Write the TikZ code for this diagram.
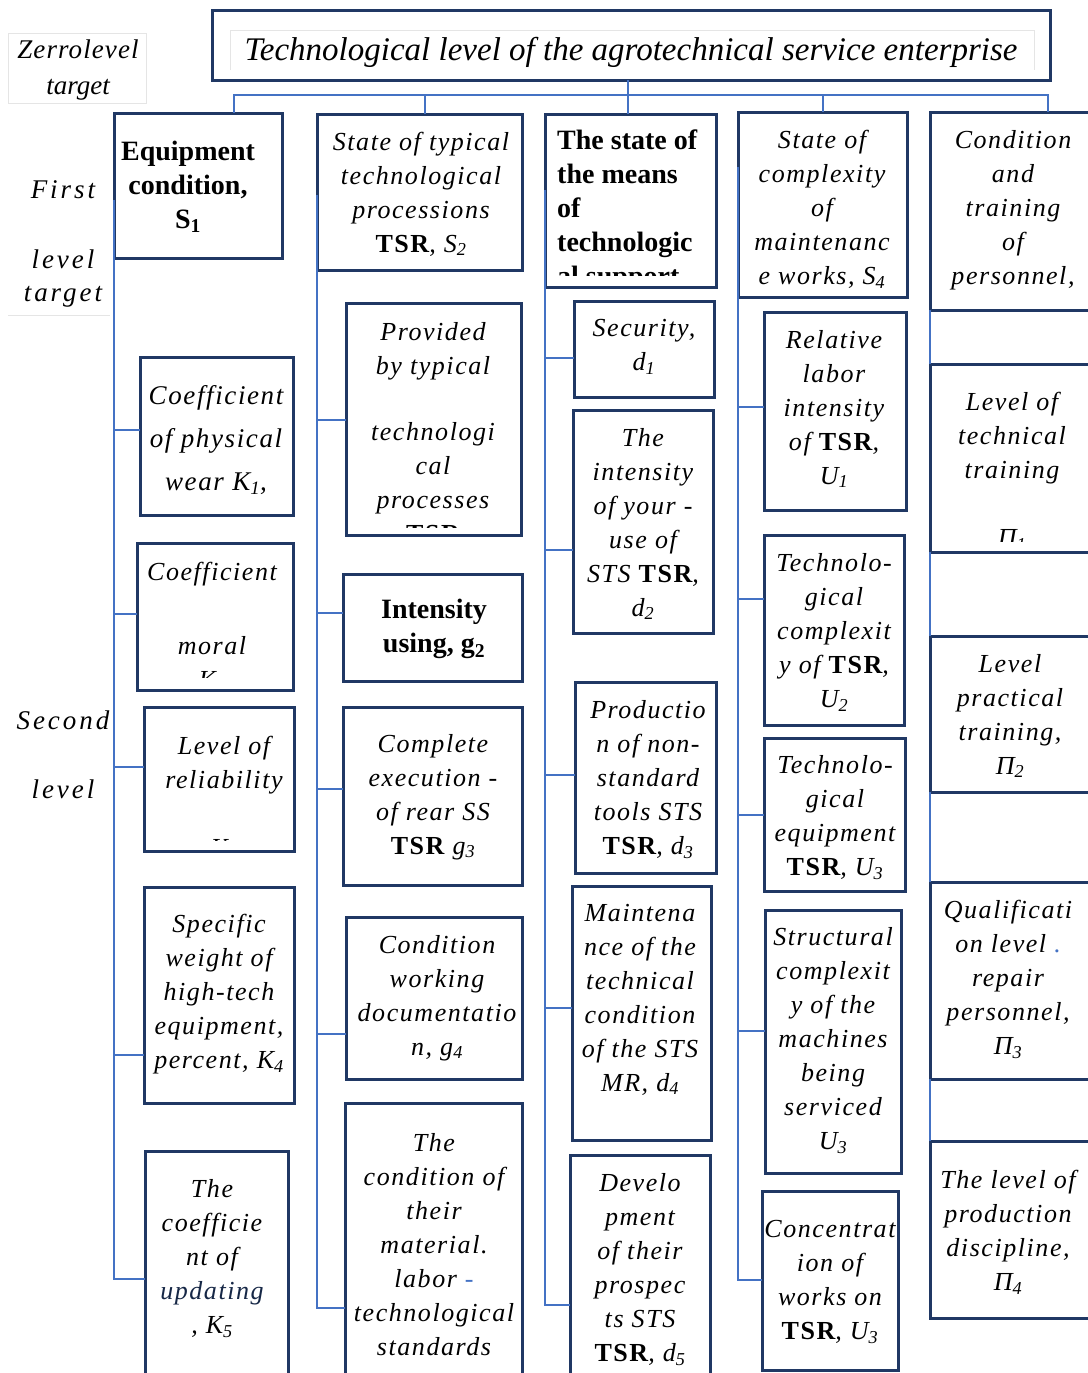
\documentclass[tikz,border=0pt]{standalone}
\usepackage{fontspec}
\setmainfont{Liberation Serif}[LetterSpace=6]
\newfontfamily\plainfont{Liberation Serif}
\newfontfamily\widefont{Liberation Serif}[LetterSpace=11]
\definecolor{navy}{HTML}{203864}
\definecolor{lineblue}{HTML}{4472C4}
\newcommand\TSR{\textbf{\upshape TSR}}
\newcommand\sub[1]{\textsubscript{#1}}
\tikzset{
 box/.style={draw=navy, line width=3pt, rectangle, inner sep=0pt, outer sep=0pt},
 conn/.style={draw=lineblue, line width=2.4pt},
 txt/.style={align=center, inner sep=0pt, font=\itshape\fontsize{26}{34}\selectfont},
 btxt/.style={align=center, inner sep=0pt, font=\plainfont\bfseries\fontsize{28}{34}\selectfont},
 lbl/.style={align=center, inner sep=0pt, font=\widefont\itshape\fontsize{27}{34}\selectfont},
 faint/.style={draw=black!10, line width=1pt}
}
\newcommand\bx[5]{\node[box, minimum width={(#4-#2)*1pt}, minimum height={(#5-#3)*1pt}] (#1) at ({(#2+#4)/2},{(#3+#5)/2}) {};}
\begin{document}
\begin{tikzpicture}[x=1pt,y=-1pt]
\useasboundingbox[fill=white] (0,0) rectangle (1087,1373);

% faint frames
\draw[faint] (8,33) rectangle (146,103);
\draw[faint] (8,315) -- (110,315);
\draw[faint] (230,70) |- (1034,30) -- (1034,70);

% left labels
\node[lbl, font=\plainfont\itshape\fontsize{27}{36}\selectfont, align=center] (zl) at (78,70) {\addfontfeature{LetterSpace=4}Zerrolevel\\target};
\node[lbl] (fl1) at (63,190) {First};
\node[lbl] (fl2) at (63,259) {level};
\node[lbl] (fl3) at (63,297) {target};
\node[lbl] (sl1) at (63,720) {Second};
\node[lbl] (sl2) at (63,789) {level};

% title
\bx{tbox}{212}{10}{1050}{80}
\node[font=\plainfont\itshape\fontsize{33}{40}\selectfont, inner sep=0pt] (title) at (631,52) {Technological level of the agrotechnical service enterprise};

% first level boxes
\bx{eq}{114}{113}{282}{258}
\bx{s2}{317}{114}{522}{270}
\bx{s3}{545}{114}{716}{287}
\bx{s4}{738}{112}{907}{297}
\bx{s5}{930}{112}{1095}{310}

% column 1
\bx{k1}{140}{357}{293}{515}
\bx{k2}{137}{543}{293}{690}
\bx{k3}{144}{707}{294}{851}
\bx{k4}{144}{887}{294}{1103}
\bx{k5}{145}{1151}{288}{1385}
% column 2
\bx{g1}{346}{303}{521}{535}
\bx{g2}{343}{574}{522}{681}
\bx{g3}{343}{707}{522}{885}
\bx{g4}{346}{917}{522}{1079}
\bx{g5}{345}{1103}{522}{1385}
% column 3
\bx{d1}{574}{301}{714}{397}
\bx{d2}{573}{410}{713}{633}
\bx{d3}{575}{682}{716}{873}
\bx{d4}{572}{886}{711}{1140}
\bx{d5}{570}{1155}{710}{1385}
% column 4
\bx{u1}{764}{312}{906}{510}
\bx{u2}{764}{535}{904}{725}
\bx{u3}{764}{738}{905}{891}
\bx{u4}{765}{910}{901}{1173}
\bx{u5}{762}{1191}{898}{1370}
% column 5
\bx{p1}{930}{364}{1095}{552}
\bx{p2}{930}{636}{1095}{792}
\bx{p3}{930}{882}{1095}{1079}
\bx{p4}{930}{1141}{1095}{1318}

% bus connectors
\draw[conn] (tbox.south -| 628,0) -- (s3.north -| 628,0);
\draw[conn] (eq.north -| 234,0) -- (234,95) -- (1048,95) -- (s5.north -| 1048,0);
\draw[conn] (s2.north -| 425,0) -- (425,95);
\draw[conn] (s4.north -| 823,0) -- (823,95);

% spines
\draw[conn] (114,200) -- (eq.west |- 0,1280);
\draw[conn] (317,195) -- (s2.west |- 0,1309);
\draw[conn] (545,190) -- (s3.west |- 0,1306);
\draw[conn] (738,167) -- (s4.west |- 0,1281);
\draw[conn] (s5.south west) -- (p1.north west);
\draw[conn] (p1.south west) -- (p2.north west);
\draw[conn] (p2.south west) -- (p3.north west);
\draw[conn] (p3.south west) -- (p4.north west);

% branches
\draw[conn] (eq.west |- 0,430) -- (k1.west |- 0,430);
\draw[conn] (eq.west |- 0,614) -- (k2.west |- 0,614);
\draw[conn] (eq.west |- 0,767) -- (k3.west |- 0,767);
\draw[conn] (eq.west |- 0,1055) -- (k4.west |- 0,1055);
\draw[conn] (eq.west |- 0,1279) -- (k5.west |- 0,1279);
\draw[conn] (s2.west |- 0,420) -- (g1.west |- 0,420);
\draw[conn] (s2.west |- 0,613) -- (g2.west |- 0,613);
\draw[conn] (s2.west |- 0,789) -- (g3.west |- 0,789);
\draw[conn] (s2.west |- 0,1034) -- (g4.west |- 0,1034);
\draw[conn] (s2.west |- 0,1308) -- (g5.west |- 0,1308);
\draw[conn] (s3.west |- 0,358) -- (d1.west |- 0,358);
\draw[conn] (s3.west |- 0,550) -- (d2.west |- 0,550);
\draw[conn] (s3.west |- 0,775) -- (d3.west |- 0,775);
\draw[conn] (s3.west |- 0,1008) -- (d4.west |- 0,1008);
\draw[conn] (s3.west |- 0,1305) -- (d5.west |- 0,1305);
\draw[conn] (s4.west |- 0,407) -- (u1.west |- 0,407);
\draw[conn] (s4.west |- 0,599) -- (u2.west |- 0,599);
\draw[conn] (s4.west |- 0,815) -- (u3.west |- 0,815);
\draw[conn] (s4.west |- 0,1031) -- (u4.west |- 0,1031);
\draw[conn] (s4.west |- 0,1280) -- (u5.west |- 0,1280);

% first level texts
\node[btxt] (eqt) at (188,187) {Equipment\\condition,\\S\sub{1}};
\node[txt] (s2t) at (421,194) {State of typical\\technological\\processions\\\TSR, S\sub{2}};
\begin{scope}
\clip (548,117) rectangle (713,275);
\node[btxt, align=left, anchor=west] (s3t) at (557,211) {The state of\\the means\\of\\technologic\\al support};
\end{scope}
\node[txt] (s4t) at (822,209.5) {State of\\complexity\\of\\maintenanc\\e works, S\sub{4}};
\begin{scope}
\clip (933,115) rectangle (1087,298);
\node[txt] (s5t) at (1013,226.5) {Condition\\and\\training\\of\\personnel,\\S\sub{5}};
\end{scope}

% column 1 texts
\node[txt, font=\itshape\fontsize{27}{43}\selectfont] (k1t) at (216,440) {Coefficient\\of physical\\wear K\sub{1},};
\begin{scope}
\clip (140,546) rectangle (290,677);
\node[txt] (k2t) at (212,627.5) {Coefficient\\[40pt]moral\\K\sub{2}};
\end{scope}
\begin{scope}
\clip (147,710) rectangle (291,840);
\node[txt] (k3t) at (224,798) {Level of\\reliability\\[34pt]K\sub{3}};
\end{scope}
\node[txt] (k4t) at (219,994.5) {Specific\\weight of\\high-tech\\equipment,\\percent, K\sub{4}};
\node[txt] (k5t) at (212,1258.5) {The\\coefficie\\nt of\\{\color{navy!70!black}updating}\\, K\sub{5}};

% column 2 texts
\begin{scope}
\clip (349,306) rectangle (518,527);
\node[txt] (g1t) at (433,433) {Provided\\by typical\\[32pt]technologi\\cal\\processes\\\TSR};
\end{scope}
\node[btxt] (g2t) at (434,629) {Intensity\\using, g\sub{2}};
\node[txt] (g3t) at (433,797) {Complete\\execution -\\of rear SS\\\TSR\ g\sub{3}};
\node[txt] (g4t) at (437,998) {Condition\\working\\documentatio\\n, g\sub{4}};
\node[txt] (g5t) at (434,1244.5) {The\\condition of\\their\\material.\\labor {\color{lineblue}-}\\technological\\standards};

% column 3 texts
\node[txt] (d1t) at (644,347) {Security,\\d\sub{1}};
\node[txt] (d2t) at (643,524) {The\\intensity\\of your -\\use of\\STS \TSR,\\d\sub{2}};
\node[txt] (d3t) at (648,779.5) {Productio\\n of non-\\standard\\tools STS\\\TSR, d\sub{3}};
\node[txt] (d4t) at (640,999.5) {Maintena\\nce of the\\technical\\condition\\of the STS\\MR, d\sub{4}};
\node[txt] (d5t) at (640,1269.5) {Develo\\pment\\of their\\prospec\\ts STS\\\TSR, d\sub{5}};

% column 4 texts
\node[txt] (u1t) at (834,409) {Relative\\labor\\intensity\\of \TSR,\\U\sub{1}};
\node[txt] (u2t) at (834,632.5) {Technolo-\\gical\\complexit\\y of \TSR,\\U\sub{2}};
\node[txt] (u3t) at (835,817.5) {Technolo-\\gical\\equipment\\\TSR, U\sub{3}};
\node[txt] (u4t) at (833,1040.5) {Structural\\complexit\\y of the\\machines\\being\\serviced\\U\sub{3}};
\node[txt] (u5t) at (830,1282) {Concentrat\\ion of\\works on\\\TSR, U\sub{3}};

% column 5 texts
\begin{scope}
\clip (933,367) rectangle (1087,541);
\node[txt] (p1t) at (1012,471) {Level of\\technical\\training\\[34pt]Π\sub{1}};
\end{scope}
\node[txt] (p2t) at (1010,716) {Level\\practical\\training,\\Π\sub{2}};
\node[txt] (p3t) at (1008,979.5) {Qualificati\\on level {\color{lineblue}.}\\repair\\personnel,\\Π\sub{3}};
\node[txt] (p4t) at (1008,1232) {The level of\\production\\discipline,\\Π\sub{4}};
\end{tikzpicture}
\end{document}
